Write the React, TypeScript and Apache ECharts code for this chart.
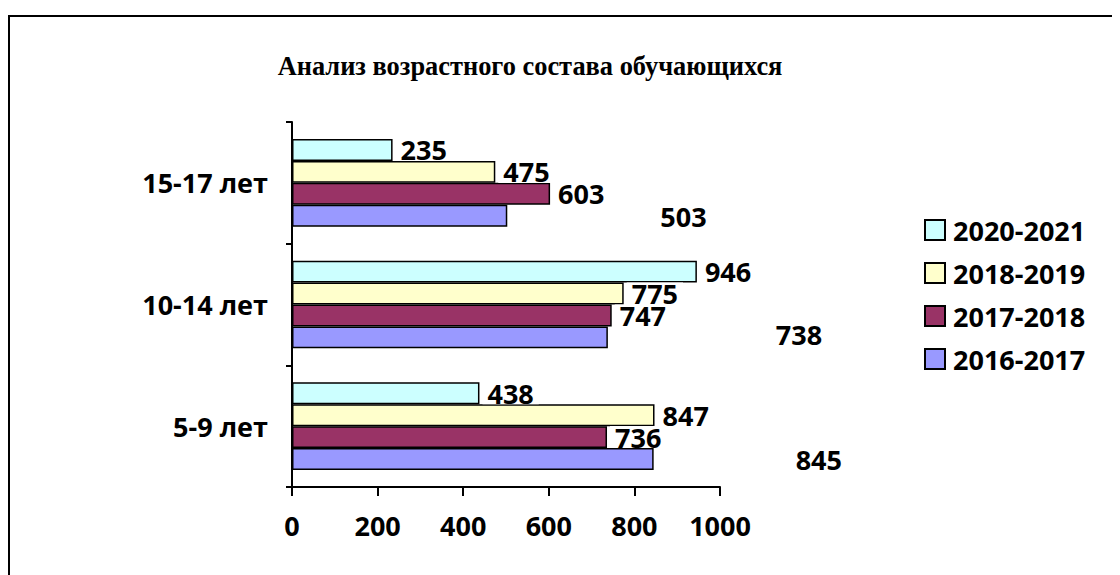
import React, { useEffect, useRef } from "react";
import * as echarts from "echarts";

const titleText = "Анализ возрастного состава обучающихся";
const categories = ["5-9 лет", "10-14 лет", "15-17 лет"];
const seriesNames = ["2020-2021", "2018-2019", "2017-2018", "2016-2017"];
const values20202021 = [438, 946, 235];
const values20182019 = [847, 775, 475];
const values20172018 = [736, 747, 603];
const values20162017 = [845, 738, 503];
const seriesColors = ["#CCFFFF", "#FFFFCC", "#993366", "#9999FF"];
const axisMin = 0;
const axisMax = 1000;
const axisInterval = 200;

// label shifts (pixels) of the 2016-2017 labels, which sit away from their bars
const shiftedLabelOffsets = [
  [134, 0],
  [160, -3],
  [145, 1],
];

const FONT = "'Open Sans', 'Noto Sans', sans-serif";

export default function App() {
  const ref = useRef<HTMLDivElement>(null);

  useEffect(() => {
    if (!ref.current) return;
    const chart = echarts.init(ref.current, null, { renderer: "svg" });

    const allValues = [values20202021, values20182019, values20172018, values20162017];

    const labelBase = {
      show: true,
      position: "right",
      distance: 3,
      fontFamily: FONT,
      fontWeight: "bold",
      fontSize: 27,
      lineHeight: 22,
      color: "#000",
      backgroundColor: "#fff",
      padding: [0, 5, 0, 5],
    };

    const series = seriesNames.map((name, si) => ({
      name,
      type: "bar",
      barGap: "0%",
      barCategoryGap: "28%",
      itemStyle: { color: seriesColors[si], borderColor: "#000", borderWidth: 1.5 },
      label: labelBase,
      data: allValues[si].map((v, ci) =>
        si === 3
          ? { value: v, label: { offset: shiftedLabelOffsets[ci], backgroundColor: "transparent" } }
          : v
      ),
    }));

    chart.setOption({
      animation: false,
      backgroundColor: "#fff",
      graphic: [
        {
          type: "line",
          shape: { x1: 1, y1: 8, x2: 1200, y2: 8 },
          style: { stroke: "#000", lineWidth: 2 },
          silent: true,
        },
        {
          type: "line",
          shape: { x1: 1, y1: 7, x2: 1, y2: 700 },
          style: { stroke: "#000", lineWidth: 2 },
          silent: true,
        },
        {
          type: "text",
          x: 522,
          y: 57.5,
          style: {
            text: titleText,
            fontFamily: "'Liberation Serif', 'Times New Roman', serif",
            fontWeight: "bold",
            fontSize: 26.4,
            fill: "#000",
            textAlign: "center",
            textVerticalAlign: "middle",
          },
        },
      ],
      legend: {
        orient: "vertical",
        left: 911,
        top: 202,
        padding: 5,
        itemWidth: 20,
        itemHeight: 20,
        itemGap: 13,
        icon: "rect",
        data: seriesNames,
        textStyle: {
          fontFamily: FONT,
          fontWeight: "bold",
          fontSize: 27,
          lineHeight: 30,
          color: "#000",
          padding: [0, 0, 0, 3],
        },
      },
      grid: { left: 284, top: 114, width: 428, height: 365 },
      xAxis: {
        type: "value",
        min: axisMin,
        max: axisMax,
        interval: axisInterval,
        axisLine: { show: true, lineStyle: { color: "#000", width: 2 } },
        axisTick: { show: true, length: 9, lineStyle: { color: "#000", width: 2 } },
        splitLine: { show: false },
        axisLabel: {
          margin: 25,
          formatter: (v: number) => String(v),
          fontFamily: FONT,
          fontWeight: "bold",
          fontSize: 27,
          color: "#000",
        },
      },
      yAxis: {
        type: "category",
        data: categories,
        axisLine: { show: true, lineStyle: { color: "#000", width: 2 } },
        axisTick: { show: true, length: 6, lineStyle: { color: "#000", width: 2 } },
        splitLine: { show: false },
        axisLabel: {
          margin: 24,
          fontFamily: FONT,
          fontWeight: "bold",
          fontSize: 27,
          color: "#000",
        },
      },
      series,
    });

    return () => chart.dispose();
  }, []);

  return <div ref={ref} style={{ width: 1112, height: 567 }} />;
}
